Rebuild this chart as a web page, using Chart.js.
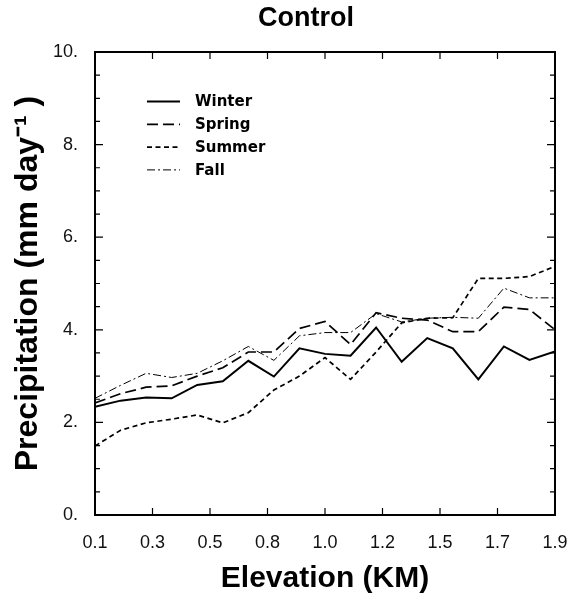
<!DOCTYPE html>
<html>
<head>
<meta charset="utf-8">
<script src="https://cdn.jsdelivr.net/npm/chart.js@4"></script>
<style>
  html, body { margin: 0; padding: 0; background: #fff; }
  #wrap { width: 569px; height: 601px; }
</style>
</head>
<body>
<div id="wrap"><canvas id="precipChart" width="569" height="601"></canvas></div>
<script>
// elevation (km) of each point
var elevations = [0.1, 0.2, 0.3, 0.4, 0.5, 0.6, 0.7, 0.8, 0.9, 1.0, 1.1, 1.2, 1.3, 1.4, 1.5, 1.6, 1.7, 1.8, 1.9];
// precipitation (mm/day) per season
var winter = [2.34, 2.47, 2.54, 2.52, 2.81, 2.89, 3.33, 2.99, 3.60, 3.48, 3.44, 4.05, 3.31, 3.82, 3.60, 2.93, 3.64, 3.35, 3.53];
var spring = [2.42, 2.62, 2.76, 2.79, 3.00, 3.18, 3.52, 3.52, 4.03, 4.18, 3.68, 4.37, 4.25, 4.21, 3.96, 3.96, 4.49, 4.44, 4.00];
var summer = [1.49, 1.83, 1.99, 2.07, 2.16, 1.99, 2.21, 2.70, 3.00, 3.40, 2.93, 3.52, 4.15, 4.25, 4.26, 5.11, 5.11, 5.15, 5.37];
var fall   = [2.52, 2.80, 3.06, 2.97, 3.06, 3.33, 3.64, 3.34, 3.87, 3.94, 3.94, 4.35, 4.17, 4.25, 4.27, 4.25, 4.90, 4.69, 4.69];

// x tick labels as printed (9 evenly spaced ticks from 0.1 to 1.9)
var xTickLabels = ['0.1', '0.3', '0.5', '0.8', '1.0', '1.2', '1.5', '1.7', '1.9'];
var yTickLabels = ['0.', '2.', '4.', '6.', '8.', '10.'];

var SANS = '"Liberation Sans", Arial, sans-serif';
var DEJAVU = '"DejaVu Sans", sans-serif';

function toPoints(values) {
  return values.map(function(v, i) { return {x: elevations[i], y: v}; });
}

// title, inward tick marks, frame and in-plot legend
var framePlugin = {
  id: 'frame',
  afterDraw: function(chart) {
    var ctx = chart.ctx, a = chart.chartArea;
    var xs = chart.scales.x, ys = chart.scales.y;
    ctx.save();

    ctx.fillStyle = '#000';
    ctx.font = 'bold 27px ' + SANS;
    ctx.textAlign = 'center';
    ctx.textBaseline = 'middle';
    ctx.fillText('Control', (a.left + a.right) / 2 - 19, 19);

    ctx.strokeStyle = '#000';
    ctx.lineWidth = 1.2;
    ctx.beginPath();
    xs.ticks.forEach(function(t) {
      var px = xs.getPixelForValue(t.value);
      ctx.moveTo(px, a.bottom); ctx.lineTo(px, a.bottom - 7);
      ctx.moveTo(px, a.top); ctx.lineTo(px, a.top + 7);
    });
    for (var v = 0; v <= 10; v += 0.5) {
      var py = ys.getPixelForValue(v);
      var len = (v % 2 === 0) ? 8 : 5;
      ctx.moveTo(a.left, py); ctx.lineTo(a.left + len, py);
      ctx.moveTo(a.right, py); ctx.lineTo(a.right - len, py);
    }
    ctx.stroke();
    ctx.lineWidth = 2;
    ctx.strokeRect(a.left, a.top, a.right - a.left, a.bottom - a.top);

    // legend
    ctx.font = 'bold 15px ' + DEJAVU;
    ctx.textAlign = 'left';
    chart.data.datasets.forEach(function(ds, i) {
      var y = a.top + 49.5 + i * 22.8;
      ctx.beginPath();
      ctx.lineWidth = ds.borderWidth;
      ctx.setLineDash(ds.borderDash || []);
      ctx.moveTo(a.left + 52, y); ctx.lineTo(a.left + 85, y);
      ctx.stroke();
      ctx.setLineDash([]);
      ctx.fillText(ds.label, a.left + 100, y + 1);
    });
    ctx.restore();
  }
};

var ctx = document.getElementById('precipChart').getContext('2d');
new Chart(ctx, {
  type: 'line',
  data: {
    datasets: [
      {label: 'Winter', data: toPoints(winter), borderColor: '#000', borderWidth: 2, borderDash: []},
      {label: 'Spring', data: toPoints(spring), borderColor: '#000', borderWidth: 1.7, borderDash: [11, 5]},
      {label: 'Summer', data: toPoints(summer), borderColor: '#000', borderWidth: 1.7, borderDash: [5, 3.5]},
      {label: 'Fall', data: toPoints(fall), borderColor: '#000', borderWidth: 1, borderDash: [8, 3, 2, 3]}
    ]
  },
  options: {
    responsive: false,
    animation: false,
    layout: {padding: {right: 14, left: 0, top: 52, bottom: 0}},
    elements: {point: {radius: 0}, line: {tension: 0, fill: false}},
    plugins: {
      legend: {display: false},
      tooltip: {enabled: false},
      title: {display: false}
    },
    scales: {
      x: {
        type: 'linear',
        min: 0.1,
        max: 1.9,
        afterBuildTicks: function(scale) {
          scale.ticks = xTickLabels.map(function(lbl, k) {
            return {value: 0.1 + k * (1.8 / (xTickLabels.length - 1))};
          });
        },
        afterFit: function(scale) {
          scale.height = 86;
          scale.paddingLeft = 0;
          scale.paddingRight = 0;
        },
        grid: {display: false},
        border: {display: false},
        ticks: {
          color: '#111',
          font: {family: SANS, size: 18},
          padding: 9,
          maxRotation: 0,
          autoSkip: false,
          callback: function(v, i) { return xTickLabels[i]; }
        },
        title: {
          display: true,
          text: 'Elevation (KM)',
          color: '#000',
          font: {family: SANS, size: 30, weight: 'bold'},
          padding: {top: 0, bottom: 4}
        }
      },
      y: {
        min: 0,
        max: 10,
        afterFit: function(scale) {
          scale.width = 95;
          scale.paddingTop = 0;
          scale.paddingBottom = 0;
        },
        grid: {display: false},
        border: {display: false},
        ticks: {
          stepSize: 2,
          color: '#111',
          font: {family: SANS, size: 18},
          padding: 9,
          callback: function(v) { return yTickLabels[Math.round(v / 2)]; }
        },
        title: {
          display: true,
          text: 'Precipitation (mm day\u207B\u00B9 )',
          color: '#000',
          font: {family: SANS, size: 32, weight: 'bold'},
          padding: {top: 9, bottom: 0}
        }
      }
    }
  },
  plugins: [framePlugin]
});
</script>
</body>
</html>
